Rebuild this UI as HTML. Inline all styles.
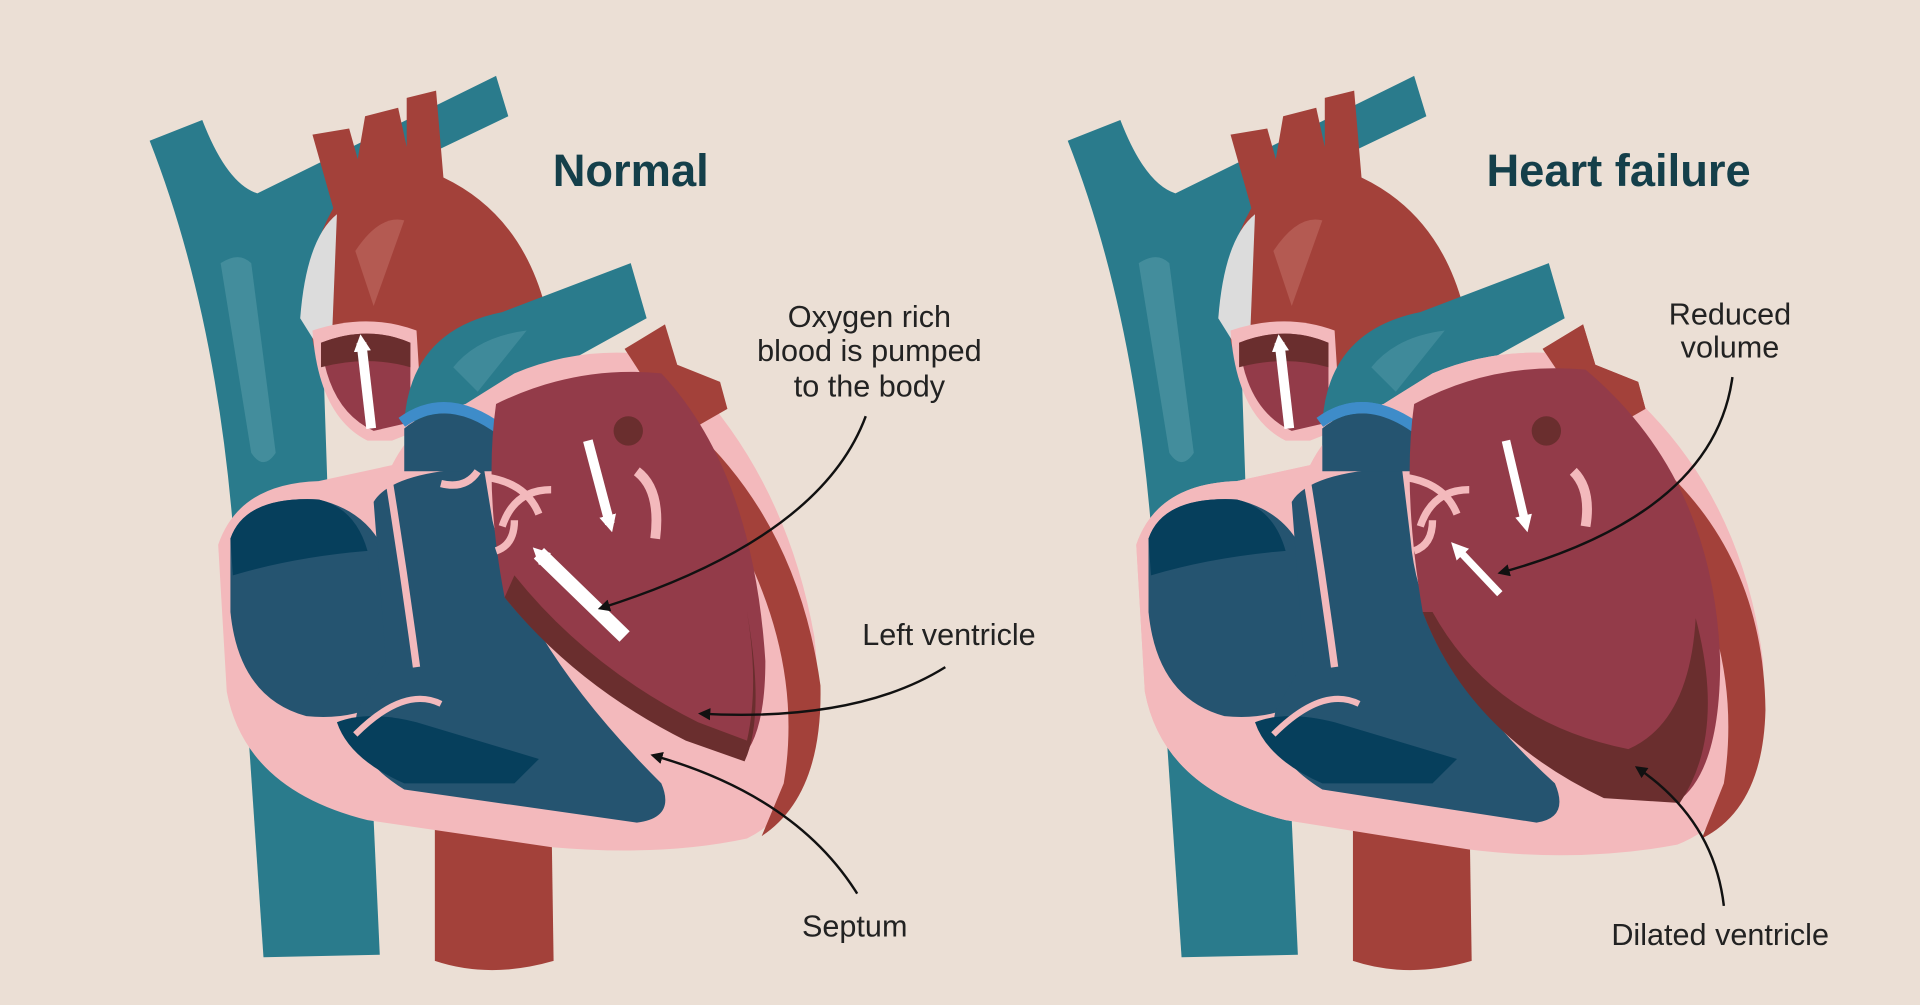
<!DOCTYPE html>
<html><head><meta charset="utf-8"><style>
html,body{margin:0;padding:0;background:#ebdfd5;}
svg{display:block;}
text{font-family:"Liberation Sans",sans-serif;}
</style></head><body>
<svg width="1920" height="1005" viewBox="0 0 1568 821" xmlns="http://www.w3.org/2000/svg">
<defs>
<marker id="ah" markerWidth="10" markerHeight="10" refX="8" refY="5" orient="auto" markerUnits="userSpaceOnUse"><path d="M0,0 L10,5 L0,10 Z" fill="#111"/></marker>
<marker id="wh" markerWidth="14" markerHeight="14" refX="7" refY="7" orient="auto" markerUnits="userSpaceOnUse"><path d="M0,0 L14,7 L0,14 Z" fill="#fff"/></marker>
<g id="base">
<!-- inferior vena cava -->
<path d="M200,560 L300,560 L310,780 L215,782 Z" fill="#2a7b8c"/>
<path d="M200,560 L300,560 L300,650 Q240,640 210,600 Z" fill="#0b5e6d"/>
<!-- descending aorta -->
<path d="M355,650 L450,650 L452,785 Q400,800 355,785 Z" fill="#a3413a"/>
<!-- superior vena cava -->
<path d="M122,115 L165,98 Q185,150 210,158 L405,62 L415,95 L300,150 Q265,175 262,240 L268,420 L190,430 Q175,250 122,115 Z" fill="#2a7b8c"/>
<path d="M180,215 Q195,205 205,215 L225,370 Q215,385 205,370 Z" fill="#4f95a3" opacity="0.7"/>
<!-- aorta -->
<path d="M255,110 L285,105 L292,130 L298,95 L325,88 L332,120 L332,80 L356,74 L362,145 Q425,175 445,250 L445,300 L330,310 L262,305 Q238,230 272,170 Z" fill="#a3413a"/>
<path d="M245,260 Q250,195 275,175 L270,300 Z" fill="#dcdcdc"/>
<path d="M290,205 Q310,175 330,180 L305,250 Z" fill="#c06a62" opacity="0.6"/>
<!-- aortic root chamber -->
<path d="M255,270 Q300,255 340,270 L345,350 L320,360 L300,360 Q260,340 255,270 Z" fill="#f3b9bc"/>
<path d="M262,280 Q300,265 335,280 L335,345 L305,352 Q268,335 262,280 Z" fill="#933b49"/>
<path d="M262,280 Q300,265 335,280 L335,300 Q300,290 262,300 Z" fill="#6a2e2e"/>
<!-- pulmonary artery -->
<path d="M330,345 Q335,270 410,255 L515,215 L528,260 L470,292 L425,335 Z" fill="#2a7b8c"/>
<path d="M370,300 Q390,275 430,270 L390,320 Z" fill="#4f95a3" opacity="0.6"/>
<!-- heart body -->
<path d="M178,445 Q195,395 260,393 L320,380 Q340,340 380,330 L420,305 Q480,280 545,292 Q640,380 665,520 Q680,650 610,685 Q540,700 450,692 L300,670 Q200,645 185,565 Z" fill="#f3b9bc"/>
<!-- right rim red -->
<path d="M510,285 L543,265 L553,298 L588,312 L594,334 L566,350 Q652,430 670,560 Q672,650 622,683 L640,640 Q662,510 560,372 Q540,330 510,285 Z" fill="#a3413a"/>
<!-- right atrium -->
<path d="M188,440 Q200,405 260,408 Q310,420 320,470 L330,560 Q300,590 250,585 Q195,570 188,500 Z" fill="#255470"/>
<path d="M188,440 Q200,405 260,408 Q290,415 300,450 Q240,455 190,470 Z" fill="#063f5c"/>
<!-- right ventricle -->
<path d="M305,410 Q320,385 395,382 L402,425 Q425,525 540,640 Q552,668 520,672 L330,645 Q282,615 292,580 L315,540 Z" fill="#255470"/>
<path d="M275,590 Q300,580 340,590 L440,620 L420,640 L330,640 Q285,620 275,590 Z" fill="#063f5c"/>
<path d="M330,350 Q360,325 405,350 L405,385 L330,385 Z" fill="#255470"/>
<path d="M328,345 Q365,318 410,352" fill="none" stroke="#3e8cc9" stroke-width="9"/>
<!-- pink septum strands -->
<path d="M318,395 Q330,470 340,545" fill="none" stroke="#f3b9bc" stroke-width="6"/>
<path d="M290,600 Q330,560 360,575" fill="none" stroke="#f3b9bc" stroke-width="5"/>
<path d="M360,395 Q380,400 390,385" fill="none" stroke="#f3b9bc" stroke-width="6"/>
</g>
</defs>

<!-- LEFT: Normal -->
<use href="#base"/>
<path d="M405,330 Q470,298 540,305 Q615,385 625,540 Q625,600 605,620 L560,600 Q470,560 412,488 Q395,400 405,330 Z" fill="#933b49"/>
<path d="M420,470 Q480,545 570,590 L610,605 Q620,560 610,500 Q625,585 608,622 L560,605 Q470,560 412,488 Z" fill="#6a2e2e"/>
<circle cx="513" cy="352" r="12" fill="#6a2e2e"/>
<path d="M398,390 Q430,395 440,420 M410,430 Q420,400 450,400 M405,450 Q420,445 420,425" fill="none" stroke="#f3b9bc" stroke-width="6"/>
<path d="M520,385 Q540,400 535,440" fill="none" stroke="#f3b9bc" stroke-width="8"/>
<line x1="303" y1="350" x2="295" y2="280" stroke="#fff" stroke-width="8" marker-end="url(#wh)"/>
<line x1="480" y1="360" x2="498" y2="428" stroke="#fff" stroke-width="8" marker-end="url(#wh)"/>
<line x1="510" y1="520" x2="440" y2="452" stroke="#fff" stroke-width="12" marker-end="url(#wh)"/>

<text x="515" y="152" font-size="37" font-weight="bold" fill="#143f4a" text-anchor="middle">Normal</text>
<text x="710" y="267" font-size="25" fill="#222" text-anchor="middle">Oxygen rich</text>
<text x="710" y="295" font-size="25" fill="#222" text-anchor="middle">blood is pumped</text>
<text x="710" y="324" font-size="25" fill="#222" text-anchor="middle">to the body</text>
<text x="775" y="527" font-size="25" fill="#222" text-anchor="middle">Left ventricle</text>
<text x="698" y="765" font-size="25" fill="#222" text-anchor="middle">Septum</text>
<path d="M707,340 Q670,440 490,497" fill="none" stroke="#111" stroke-width="2" marker-end="url(#ah)"/>
<path d="M772,545 Q700,590 572,583" fill="none" stroke="#111" stroke-width="2" marker-end="url(#ah)"/>
<path d="M700,730 Q650,650 533,617" fill="none" stroke="#111" stroke-width="2" marker-end="url(#ah)"/>

<!-- RIGHT: Heart failure -->
<g transform="translate(750,0)">
<use href="#base"/>
<path d="M178,445 Q195,395 260,393 L320,380 Q340,340 380,330 L420,305 Q480,280 545,292 Q670,380 690,540 Q695,660 620,690 Q540,705 450,694 L300,670 Q200,645 185,565 Z" fill="#f3b9bc"/>
<path d="M510,285 L543,265 L553,298 L588,312 L594,334 L566,350 Q690,430 692,580 Q690,660 640,685 L658,640 Q680,500 570,372 Q540,330 510,285 Z" fill="#a3413a"/>
<path d="M188,440 Q200,405 260,408 Q310,420 320,470 L330,560 Q300,590 250,585 Q195,570 188,500 Z" fill="#255470"/>
<path d="M188,440 Q200,405 260,408 Q290,415 300,450 Q240,455 190,470 Z" fill="#063f5c"/>
<path d="M305,410 Q320,385 395,382 L402,440 Q410,540 520,640 Q532,668 505,672 L330,645 Q282,615 292,580 L315,540 Z" fill="#255470"/>
<path d="M275,590 Q300,580 340,590 L440,620 L420,640 L330,640 Q285,620 275,590 Z" fill="#063f5c"/>
<path d="M330,350 Q360,325 405,350 L405,385 L330,385 Z" fill="#255470"/>
<path d="M328,345 Q365,318 410,352" fill="none" stroke="#3e8cc9" stroke-width="9"/>
<path d="M318,395 Q330,470 340,545" fill="none" stroke="#f3b9bc" stroke-width="6"/>
<path d="M290,600 Q330,560 360,575" fill="none" stroke="#f3b9bc" stroke-width="5"/>
<path d="M405,330 Q470,295 545,302 Q650,390 655,540 Q655,630 620,655 L560,650 Q450,600 412,500 Q395,400 405,330 Z" fill="#933b49"/>
<path d="M420,500 Q470,590 580,612 Q630,590 635,505 Q660,600 622,656 L560,652 Q450,600 412,500 Z" fill="#6a2e2e"/>
<circle cx="513" cy="352" r="12" fill="#6a2e2e"/>
<path d="M398,390 Q430,395 440,420 M410,430 Q420,400 450,400 M405,450 Q420,445 420,425" fill="none" stroke="#f3b9bc" stroke-width="6"/>
<path d="M535,385 Q550,400 545,430" fill="none" stroke="#f3b9bc" stroke-width="8"/>
<line x1="303" y1="350" x2="295" y2="280" stroke="#fff" stroke-width="8" marker-end="url(#wh)"/>
<line x1="480" y1="360" x2="496" y2="428" stroke="#fff" stroke-width="7" marker-end="url(#wh)"/>
<line x1="475" y1="485" x2="440" y2="448" stroke="#fff" stroke-width="6" marker-end="url(#wh)"/>
</g>

<text x="1322" y="152" font-size="37" font-weight="bold" fill="#143f4a" text-anchor="middle">Heart failure</text>
<text x="1413" y="265" font-size="25" fill="#222" text-anchor="middle">Reduced</text>
<text x="1413" y="292" font-size="25" fill="#222" text-anchor="middle">volume</text>
<text x="1405" y="772" font-size="25" fill="#222" text-anchor="middle">Dilated ventricle</text>
<path d="M1415,308 Q1400,420 1225,468" fill="none" stroke="#111" stroke-width="2" marker-end="url(#ah)"/>
<path d="M1408,740 Q1400,670 1337,627" fill="none" stroke="#111" stroke-width="2" marker-end="url(#ah)"/>
</svg>
</body></html>
